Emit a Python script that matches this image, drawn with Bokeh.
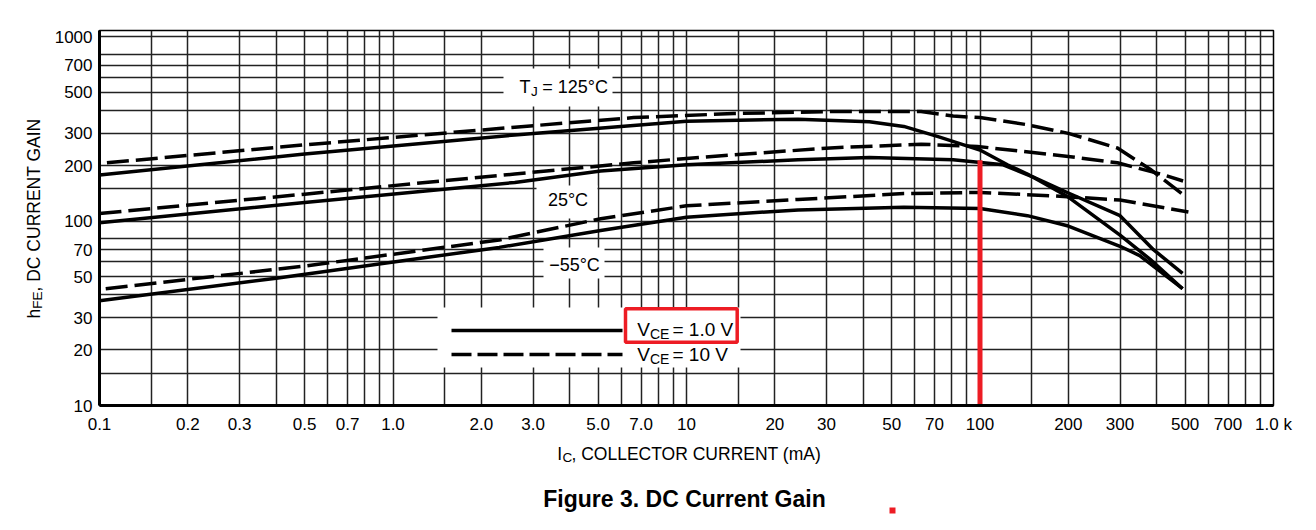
import math
from bokeh.plotting import figure
from bokeh.layouts import row, column
from bokeh.models import (FixedTicker, CustomJSTickFormatter, Label, BoxAnnotation,
                          Arrow, Range1d)
from bokeh.embed import file_html
from bokeh.resources import INLINE

# ---------------- data ----------------
# T_J = 125 C
ic_125_v1 = [0.1, 0.5, 2.6, 10, 24, 42, 55, 72, 88, 100, 124, 145, 200, 300, 380, 490]
hfe_125_v1 = [178, 231, 293, 348, 357, 346, 326, 287, 259, 243, 202, 180, 135, 84, 62, 43]
ic_125_v10 = [0.106, 0.5, 2.6, 6.6, 14.5, 32, 63, 81, 100, 145, 200, 294, 380, 490]
hfe_125_v10 = [207, 259, 323, 364, 383, 393, 393, 371, 364, 333, 299, 249, 191, 140]
# T_J = 25 C
ic_25_v1 = [0.1, 0.5, 2.6, 5.1, 10, 24, 42, 81, 120, 152, 200, 300, 390, 490]
hfe_25_v1 = [98, 126, 162, 187, 202, 215, 221, 215, 202, 173, 142, 107, 70, 52]
ic_25_v10 = [0.1, 0.5, 2.6, 6.6, 14.5, 32, 63, 98, 200, 294, 412, 492]
hfe_25_v10 = [110, 140, 180, 207, 229, 250, 261, 254, 224, 207, 180, 165]
# T_J = -55 C
ic_m55_v1 = [0.1, 0.4, 2.3, 5.1, 10, 24, 55, 100, 145, 200, 300, 350, 490]
hfe_m55_v1 = [37, 49, 72, 89, 105, 115, 119, 117, 107, 94, 73, 65, 43]
ic_m55_v10 = [0.105, 0.5, 2.3, 5.1, 10, 24, 55, 100, 178, 300, 513]
hfe_m55_v10 = [43, 57, 79, 103, 121, 131, 141, 143, 137, 130, 112]

# red marker at I_C = 100 mA
marker_ic = [100]
marker_hfe_low = [10]
marker_hfe_high = [214]

x_tick_values = [0.1, 0.2, 0.3, 0.5, 0.7, 1, 2, 3, 5, 7, 10, 20, 30, 50, 70,
                 100, 200, 300, 500, 700, 1000]
x_tick_labels = ["0.1", "0.2", "0.3", "0.5", "0.7", "1.0", "2.0", "3.0", "5.0", "7.0",
                 "10", "20", "30", "50", "70", "100", "200", "300", "500", "700", "1.0 k"]
x_grid_mult = [1, 1.5, 2, 3, 4, 5, 6, 7, 8, 9]
x_grid_decades = [0.1, 1, 10, 100]
x_grid_values = [m * d for d in x_grid_decades for m in x_grid_mult] + [1000]

y_tick_values = [10, 20, 30, 50, 70, 100, 200, 300, 500, 700, 1000]
y_tick_labels = ["10", "20", "30", "50", "70", "100", "200", "300", "500", "700", "1000"]
y_grid_values = [10, 15, 20, 30, 40, 50, 60, 70, 80, 100, 150, 200, 300, 400,
                 500, 600, 700, 800, 1000]

# ---------------- styling ----------------
FONT = "'Liberation Sans', Arial, Helvetica, sans-serif"
RED = "#ED1C24"
GRID = "#222222"


def bare(fig):
    fig.background_fill_color = "white"
    fig.border_fill_color = "white"
    fig.outline_line_color = None
    fig.grid.visible = False
    return fig


p = figure(width=1258, height=443, x_axis_type="log", y_axis_type="log",
           x_range=Range1d(0.1, 1000), y_range=Range1d(10, 1080), title=None,
           output_backend="svg", toolbar_location=None,
           min_border_left=49, min_border_right=35, min_border_top=30,
           min_border_bottom=38)
p.background_fill_color = "white"
p.border_fill_color = "white"
p.outline_line_color = "black"
p.outline_line_width = 1.5

fmt_js = """
const i = vals.findIndex(v => Math.abs(v - tick) <= 1e-6 * v);
return i >= 0 ? labs[i] : "";
"""
for ax, tv, tl, so in ((p.xaxis[0], x_tick_values, x_tick_labels, 9),
                       (p.yaxis[0], y_tick_values, y_tick_labels, 7)):
    ax.ticker = FixedTicker(ticks=tv)
    ax.formatter = CustomJSTickFormatter(args=dict(vals=tv, labs=tl), code=fmt_js)
    ax.axis_line_width = 3
    ax.axis_line_color = "black"
    ax.major_tick_in = 0
    ax.major_tick_out = 0
    ax.minor_tick_in = 0
    ax.minor_tick_out = 0
    ax.major_label_text_font = FONT
    ax.major_label_text_font_size = "17px"
    ax.major_label_text_color = "black"
    ax.major_label_standoff = so
    ax.axis_label = None

p.xgrid.ticker = FixedTicker(ticks=x_grid_values)
p.ygrid.ticker = FixedTicker(ticks=y_grid_values)
for g in (p.xgrid[0], p.ygrid[0]):
    g.grid_line_color = GRID
    g.grid_line_width = 1.5
    g.grid_line_alpha = 1.0


def sbox(fig, l, r, t, b, **kw):
    fig.add_layout(BoxAnnotation(left=l, right=r, top=t, bottom=b,
                                 left_units="screen", right_units="screen",
                                 top_units="screen", bottom_units="screen", **kw))


# white boxes behind the in-plot annotations (screen px, relative to frame)
for l, r, t, b in ((404, 513, 337, 299), (437, 498, 220, 187),
                   (444, 505, 158, 127), (338, 641, 98, 38)):
    sbox(p, l, r, t, b, fill_color="white", fill_alpha=1.0, line_alpha=0,
         level="underlay")

# curves
LW = 3.5
DASH = "22 7"
curves = [
    (ic_125_v1, hfe_125_v1, "solid"), (ic_125_v10, hfe_125_v10, DASH),
    (ic_25_v1, hfe_25_v1, "solid"), (ic_25_v10, hfe_25_v10, DASH),
    (ic_m55_v1, hfe_m55_v1, "solid"), (ic_m55_v10, hfe_m55_v10, DASH),
]
for xs, ys, dash in curves:
    p.line(xs, ys, line_color="black", line_width=LW, line_dash=dash,
           line_join="round")

# red marker line
p.segment(x0=marker_ic, y0=marker_hfe_low, x1=marker_ic, y1=marker_hfe_high,
          line_color=RED, line_width=5)


def lab(fig, text, x, y, size, align="left", angle=0.0, bold=False):
    fig.add_layout(Label(x=x, y=y, x_units="screen", y_units="screen", text=text,
                         text_font=FONT, text_font_size=f"{size}px",
                         text_font_style="bold" if bold else "normal",
                         text_color="black", text_align=align,
                         text_baseline="alphabetic", angle=angle))


# T_J = 125 C
lab(p, "T", 420, 319, 18)
lab(p, "J", 431.5, 314.5, 13.5)
lab(p, "= 125°C", 442.7, 319, 18)
lab(p, "25°C", 468.5, 206, 18, align="center")
lab(p, "−55°C", 475, 141, 18, align="center")

# legend
p.add_layout(Arrow(x_start=352, y_start=75, x_end=523, y_end=75,
                   start_units="screen", end_units="screen", end=None,
                   line_color="black", line_width=LW))
p.add_layout(Arrow(x_start=352, y_start=51, x_end=523, y_end=51,
                   start_units="screen", end_units="screen", end=None,
                   line_color="black", line_width=LW, line_dash="20 6"))
lab(p, "V", 537.7, 76, 19)
lab(p, "CE", 550.5, 72, 14)
lab(p, "= 1.0 V", 573, 76, 19)
lab(p, "V", 537.7, 51, 19)
lab(p, "CE", 550.5, 47, 14)
lab(p, "= 10 V", 573, 51, 19)
sbox(p, 526, 637.7, 96.7, 63.3, fill_alpha=0, line_color=RED, line_alpha=1.0,
     line_width=3.5)

# ---- left strip: y-axis title ----
left = bare(figure(width=50, height=522, title=None, output_backend="svg",
                   toolbar_location=None, min_border=0,
                   x_axis_location=None, y_axis_location=None))
A = math.pi / 2
lab(left, "h", 33, 204, 17.5, angle=A)
lab(left, "FE", 36.5, 213.7, 13.5, angle=A)
lab(left, ", DC CURRENT GAIN", 33, 231, 17.5, angle=A)

# ---- bottom strip: x-axis title and caption (frame aligned with the chart) ----
bottom = bare(figure(width=1258, height=79, title=None, output_backend="svg",
                     toolbar_location=None, min_border=0,
                     x_axis_location=None, y_axis_location=None))
lab(bottom, "I", 457.7, 69, 17.5)
lab(bottom, "C", 463, 65, 13.5)
lab(bottom, ", COLLECTOR CURRENT (mA)", 472, 69, 17.5)
lab(bottom, "Figure 3. DC Current Gain", 585, 24, 23, align="center", bold=True)
sbox(bottom, 790, 796, 15, 9, fill_color=RED, fill_alpha=1.0, line_alpha=0)

layout = row(left, column(p, bottom))
open("out.html", "w").write(file_html(layout, INLINE))
